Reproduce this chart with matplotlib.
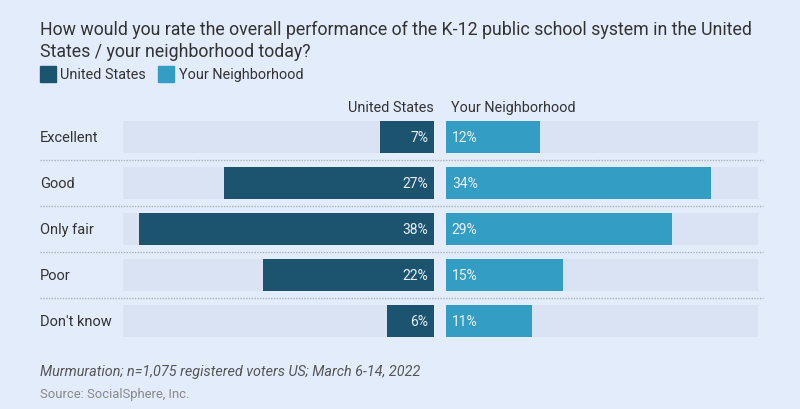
import matplotlib.pyplot as plt
from matplotlib.transforms import blended_transform_factory
from matplotlib.lines import Line2D
from matplotlib.patches import Rectangle

plt.rcParams['font.family'] = ['Roboto', 'DejaVu Sans']

categories = ["Excellent", "Good", "Only fair", "Poor", "Don't know"]
us_values = [7, 27, 38, 22, 6]
hood_values = [12, 34, 29, 15, 11]
series_names = ["United States", "Your Neighborhood"]

BG = "#e3ecfa"
TRACK = "#d9e3f4"
DARK = "#1c5470"
LIGHT = "#339dc3"
TEXT = "#333333"

W, H = 800, 410
fig = plt.figure(figsize=(W / 100, H / 100), dpi=100, facecolor=BG)


def px_axes(x0, x1, y_top, y_bot):
    return fig.add_axes([x0 / W, 1 - y_bot / H, (x1 - x0) / W, (y_bot - y_top) / H])


ax_l = px_axes(123, 434, 115, 345)
ax_r = px_axes(446, 758, 115, 345)
ypos = list(range(len(categories)))

for ax, vals, color in [(ax_l, us_values, DARK), (ax_r, hood_values, LIGHT)]:
    ax.set_facecolor("none")
    ax.barh(ypos, [40] * len(ypos), height=0.71, color=TRACK)
    ax.barh(ypos, vals, height=0.71, color=color)
    ax.set_xlim(0, 40)
    ax.set_ylim(4.5, -0.5)
    ax.axis("off")

ax_l.invert_xaxis()
for y, v in zip(ypos, us_values):
    ax_l.text(0.75, y, f"{v}%", ha="right", va="center", color="#e8eef5", fontsize=10)
for y, v in zip(ypos, hood_values):
    ax_r.text(0.75, y, f"{v}%", ha="left", va="center", color="#e8f2f8", fontsize=10)

ax_l.text(0, -0.66, series_names[0], ha="right", va="center", fontsize=10.4, color=TEXT)
ax_r.text(0.6, -0.66, series_names[1], ha="left", va="center", fontsize=10.4, color=TEXT)

tr = blended_transform_factory(fig.transFigure, ax_l.transData)
for y, cat in zip(ypos, categories):
    fig.text(40 / W, y, cat, transform=tr, ha="left", va="center", fontsize=10.5, color=TEXT)
for y in ypos[:-1]:
    fig.add_artist(Line2D([40 / W, 763 / W], [y + 0.5, y + 0.5], transform=tr,
                          color="#a9b0ba", linestyle=(0, (1, 1)), linewidth=1))

fig.text(40 / W, 1 - 30 / H,
         "How would you rate the overall performance of the K-12 public school system in the United",
         ha="left", va="center", fontsize=12.8, color=TEXT)
fig.text(40 / W, 1 - 52 / H, "States / your neighborhood today?",
         ha="left", va="center", fontsize=12.8, color=TEXT)

# legend
fig.add_artist(Rectangle((40 / W, 1 - 83 / H), 16 / W, 16 / H, transform=fig.transFigure, color=DARK))
fig.text(60 / W, 1 - 75 / H, series_names[0], ha="left", va="center", fontsize=10.4, color=TEXT)
fig.add_artist(Rectangle((158 / W, 1 - 83 / H), 16 / W, 16 / H, transform=fig.transFigure, color=LIGHT))
fig.text(179 / W, 1 - 75 / H, series_names[1], ha="left", va="center", fontsize=10.4, color=TEXT)

fig.text(40 / W, 1 - 372 / H, "Murmuration; n=1,075 registered voters US; March 6-14, 2022",
         ha="left", va="center", fontsize=10.4, style="italic", color="#555555")
fig.text(40 / W, 1 - 395 / H, "Source: SocialSphere, Inc.",
         ha="left", va="center", fontsize=9.4, color="#888888")

fig.savefig("out.png", dpi=100, facecolor=BG)
